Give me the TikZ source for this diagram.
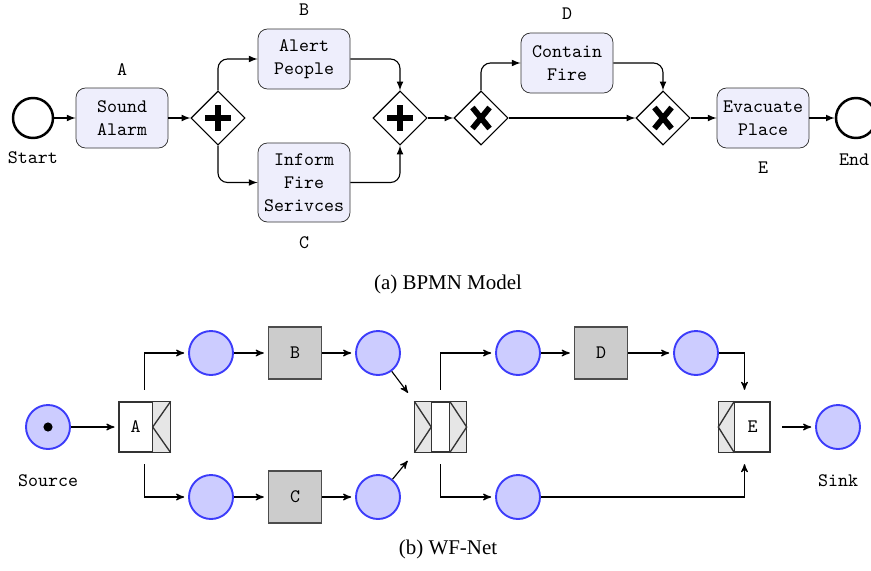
\documentclass[tikz,border=0pt]{standalone}
\usepackage{fontspec}
\setmainfont{Liberation Serif}
\usepackage{tikz}
\usetikzlibrary{arrows,shapes.geometric}

\definecolor{taskfill}{RGB}{238,238,252}
\definecolor{placeblue}{RGB}{60,60,250}
\definecolor{placefill}{RGB}{204,204,255}
\definecolor{transgray}{RGB}{204,204,204}
\definecolor{splitgray}{RGB}{230,230,230}

\begin{document}
\begin{tikzpicture}[x=0.525pt,y=-0.525pt,>=stealth',
  event node/.style={circle,draw,line width=1.3pt,minimum size=21pt,inner sep=0pt},
  task node/.style={rectangle,rounded corners=5pt,draw=black!80,fill=taskfill,
        minimum width=48.3pt,minimum height=31.5pt,align=center,font=\ttfamily,inner sep=2pt},
  gate node/.style={diamond,draw,minimum size=28.4pt,inner sep=0pt,line width=0.6pt},
  gate mark/.style={line width=3.5pt},
  tag node/.style={font=\ttfamily},
  flow/.style={-latex,line width=0.6pt,rounded corners=5pt},
  place node/.style={circle,draw=placeblue,fill=placefill,line width=1pt,minimum size=23.1pt,inner sep=0pt},
  trans node/.style={rectangle,draw=black!70,fill=transgray,line width=1pt,
        minimum width=27.8pt,minimum height=27.3pt,font=\ttfamily},
  split node/.style={rectangle,draw=black!80,fill=white,line width=0.7pt,
        minimum width=26.8pt,minimum height=26.25pt,inner sep=0pt},
  split part/.style={fill=splitgray,draw=black!80,line width=0.7pt},
  arc/.style={->,line width=0.6pt,shorten >=2pt},
  caption node/.style={font=\fontsize{11}{13}\selectfont}]
  \useasboundingbox (0,0) rectangle (871,570);

  % (a) BPMN model
  \node[event node] (start) at (33,118) {};
  \node[task node]  (A) at (122,118) {Sound\\Alarm};
  \node[gate node]  (G1) at (218,118) {};
  \node[task node]  (B) at (304,59) {Alert\\People};
  \node[task node,minimum height=41.5pt] (C) at (304,182.5) {Inform\\Fire\\Serivces};
  \node[gate node]  (G2) at (400,118) {};
  \node[gate node]  (G3) at (481,118) {};
  \node[task node]  (D) at (567,63) {Contain\\Fire};
  \node[gate node]  (G4) at (663,118) {};
  \node[task node]  (E) at (763,118) {Evacuate\\Place};
  \node[event node] (endev) at (856,118) {};

  \node[tag node] (lstart) at (33,158) {Start};
  \node[tag node] (lA) at (122,70) {A};
  \node[tag node] (lB) at (304,10) {B};
  \node[tag node] (lC) at (304,243) {C};
  \node[tag node] (lD) at (567,14) {D};
  \node[tag node] (lE) at (763,168) {E};
  \node[tag node] (lend) at (854,160) {End};

  \draw[gate mark] ([xshift=-6.8pt]G1.center) -- ([xshift=6.8pt]G1.center);
  \draw[gate mark] ([yshift=-6.8pt]G1.center) -- ([yshift=6.8pt]G1.center);
  \draw[gate mark] ([xshift=-6.8pt]G2.center) -- ([xshift=6.8pt]G2.center);
  \draw[gate mark] ([yshift=-6.8pt]G2.center) -- ([yshift=6.8pt]G2.center);
  \draw[gate mark,line width=3pt] ([shift={(-4.5pt,-5.5pt)}]G3.center) -- ([shift={(4.5pt,5.5pt)}]G3.center);
  \draw[gate mark,line width=3pt] ([shift={(-4.5pt,5.5pt)}]G3.center) -- ([shift={(4.5pt,-5.5pt)}]G3.center);
  \draw[gate mark,line width=3pt] ([shift={(-4.5pt,-5.5pt)}]G4.center) -- ([shift={(4.5pt,5.5pt)}]G4.center);
  \draw[gate mark,line width=3pt] ([shift={(-4.5pt,5.5pt)}]G4.center) -- ([shift={(4.5pt,-5.5pt)}]G4.center);

  \draw[flow] (start) -- (A);
  \draw[flow] (A) -- (G1);
  \draw[flow] (G1.north) |- (B);
  \draw[flow] (G1.south) |- (C);
  \draw[flow] (B) -| (G2.north);
  \draw[flow] (C) -| (G2.south);
  \draw[flow] (G2) -- (G3);
  \draw[flow] (G3.north) |- (D);
  \draw[flow] (G3) -- (G4);
  \draw[flow] (D) -| (G4.north);
  \draw[flow] (G4) -- (E);
  \draw[flow] (E) -- (endev);

  \node[caption node] (capa) at (448,284) {(a) BPMN Model};

  % (b) WF-net
  \node[place node] (src) at (48,427) {};
  \fill (src.center) circle (2.4pt);
  \node[split node] (tA) at (144.5,427) {};
  \filldraw[split part] ([xshift=-9.45pt]tA.north east) rectangle (tA.south east);
  \draw[split part,fill=none] (tA.north east) -- ([xshift=-9.45pt]tA.east) -- (tA.south east);
  \node[tag node] (lAnet) at ([xshift=-4.7pt]tA.center) {A};

  \node[place node] (p1) at (211,353) {};
  \node[trans node] (tB) at (295,353) {B};
  \node[place node] (p2) at (378,353) {};
  \node[place node] (p3) at (211,497) {};
  \node[trans node] (tC) at (295,497) {C};
  \node[place node] (p4) at (378,497) {};

  \node[split node] (tJ) at (440.5,427) {};
  \filldraw[split part] (tJ.north west) rectangle ([xshift=8.9pt]tJ.south west);
  \filldraw[split part] ([xshift=-8.9pt]tJ.north east) rectangle (tJ.south east);
  \draw[split part,fill=none] (tJ.north west) -- ([xshift=8.9pt]tJ.west) -- (tJ.south west);
  \draw[split part,fill=none] ([xshift=-8.9pt]tJ.north east) -- (tJ.east) -- ([xshift=-8.9pt]tJ.south east);

  \node[place node] (p5) at (518,353) {};
  \node[trans node] (tD) at (601,353) {D};
  \node[place node] (p6) at (696,353) {};
  \node[place node] (p7) at (518,497) {};

  \node[split node] (tE) at (744.5,427) {};
  \filldraw[split part] (tE.north west) rectangle ([xshift=8.4pt]tE.south west);
  \draw[split part,fill=none] ([xshift=8.4pt]tE.north west) -- (tE.west) -- ([xshift=8.4pt]tE.south west);
  \node[tag node] (lEnet) at ([xshift=4.2pt]tE.center) {E};

  \node[place node] (sink) at (838,427) {};

  \node[tag node] (lsrc) at (48,481) {Source};
  \node[tag node] (lsink) at (838,481) {Sink};

  \draw[arc] (src) -- (tA);
  \draw[arc,shorten <=6pt] (tA.north) |- (p1);
  \draw[arc,shorten <=6pt] (tA.south) |- (p3);
  \draw[arc] (p1) -- (tB);
  \draw[arc] (tB) -- (p2);
  \draw[arc] (p3) -- (tC);
  \draw[arc] (tC) -- (p4);
  \draw[arc,shorten >=5.5pt] (p2) -- (tJ.north west);
  \draw[arc,shorten >=5.5pt] (p4) -- (tJ.south west);
  \draw[arc,shorten <=6pt] (tJ.north) |- (p5);
  \draw[arc,shorten <=6pt] (tJ.south) |- (p7);
  \draw[arc] (p5) -- (tD);
  \draw[arc] (tD) -- (p6);
  \draw[arc,shorten >=6pt] (p6) -| (tE.north);
  \draw[arc,shorten >=6pt] (p7) -| (tE.south);
  \draw[arc,shorten <=6pt] (tE) -- (sink);

  \node[caption node] (capb) at (448,549) {(b) WF-Net};
\end{tikzpicture}
\end{document}
